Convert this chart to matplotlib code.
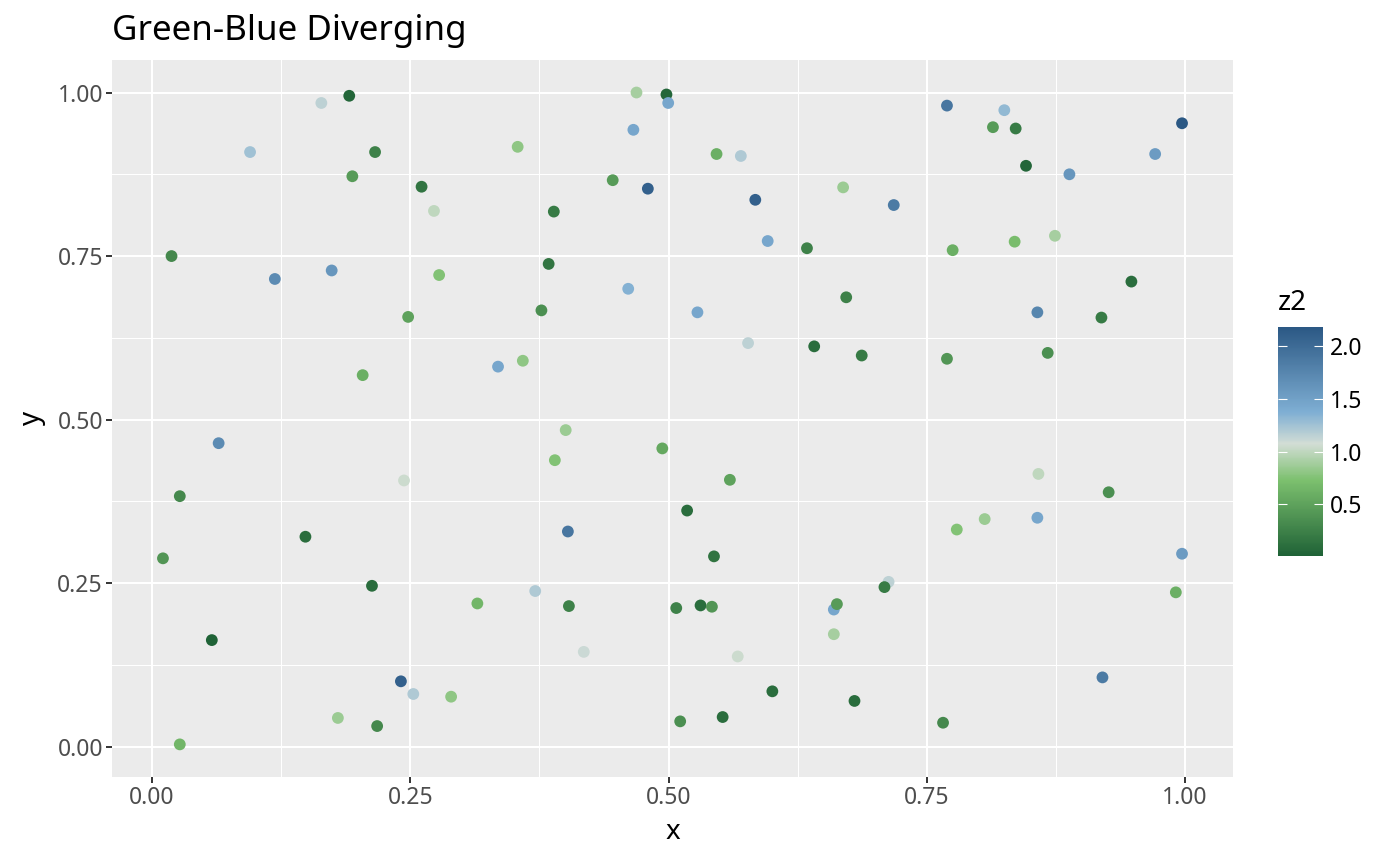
import numpy as np
import matplotlib
matplotlib.use("Agg")
import matplotlib.pyplot as plt
from matplotlib.colors import LinearSegmentedColormap, Normalize

plt.rcParams["font.family"] = ["Noto Sans", "DejaVu Sans"]

# ── data ──────────────────────────────────────────────────────────
x = [0.191, 0.164, 0.095, 0.216, 0.194, 0.261, 0.273, 0.389, 0.354, 0.469,
     0.498, 0.4997, 0.466, 0.446, 0.480, 0.019, 0.119, 0.174, 0.278, 0.384,
     0.461, 0.248, 0.377, 0.204, 0.335, 0.359,
     0.7695, 0.825, 0.814, 0.836, 0.997, 0.5465, 0.570, 0.846, 0.971, 0.888,
     0.584, 0.669, 0.718, 0.596, 0.634, 0.775, 0.835, 0.874, 0.528, 0.577,
     0.672, 0.641, 0.687, 0.7695, 0.857, 0.867, 0.919, 0.948,
     0.0646, 0.027, 0.0107, 0.1486, 0.058, 0.027, 0.244, 0.213, 0.315, 0.371,
     0.4036, 0.4005, 0.390, 0.494, 0.4026, 0.418, 0.241, 0.253, 0.2896, 0.180,
     0.218,
     0.5594, 0.518, 0.544, 0.5075, 0.531, 0.542, 0.567, 0.6005, 0.5524, 0.5113,
     0.660, 0.663, 0.660, 0.713, 0.709, 0.680, 0.7657, 0.779, 0.806, 0.857,
     0.858, 0.926, 0.997, 0.991, 0.920]
y = [0.995, 0.984, 0.909, 0.909, 0.872, 0.856, 0.819, 0.818, 0.917, 1.000,
     0.997, 0.984, 0.943, 0.866, 0.853, 0.750, 0.715, 0.728, 0.721, 0.738,
     0.700, 0.657, 0.667, 0.568, 0.581, 0.590,
     0.980, 0.973, 0.947, 0.945, 0.953, 0.906, 0.903, 0.888, 0.906, 0.875,
     0.836, 0.855, 0.828, 0.773, 0.762, 0.759, 0.772, 0.781, 0.664, 0.617,
     0.687, 0.612, 0.598, 0.593, 0.664, 0.602, 0.656, 0.711,
     0.464, 0.383, 0.288, 0.321, 0.163, 0.0036, 0.407, 0.246, 0.219, 0.238,
     0.215, 0.484, 0.438, 0.456, 0.329, 0.145, 0.100, 0.0806, 0.0765, 0.044,
     0.0316,
     0.408, 0.361, 0.291, 0.212, 0.216, 0.214, 0.138, 0.0847, 0.0454, 0.0388,
     0.2097, 0.218, 0.172, 0.252, 0.244, 0.070, 0.0367, 0.332, 0.348, 0.350,
     0.417, 0.389, 0.295, 0.236, 0.106]
z2 = [0.05, 1.15, 1.25, 0.25, 0.45, 0.15, 1.00, 0.20, 0.80, 0.90,
      0.05, 1.45, 1.45, 0.45, 2.10, 0.30, 1.70, 1.60, 0.75, 0.15,
      1.35, 0.50, 0.35, 0.60, 1.45, 0.80,
      1.90, 1.30, 0.45, 0.20, 2.18, 0.60, 1.20, 0.05, 1.55, 1.60,
      2.10, 0.85, 1.85, 1.45, 0.25, 0.60, 0.70, 0.90, 1.45, 1.15,
      0.25, 0.10, 0.20, 0.40, 1.75, 0.35, 0.20, 0.10,
      1.70, 0.30, 0.40, 0.10, 0.01, 0.65, 1.05, 0.10, 0.65, 1.20,
      0.25, 0.85, 0.75, 0.55, 1.90, 1.10, 2.10, 1.20, 0.80, 0.85,
      0.30,
      0.50, 0.10, 0.15, 0.25, 0.10, 0.40, 1.05, 0.10, 0.10, 0.35,
      1.45, 0.45, 0.90, 1.15, 0.20, 0.10, 0.30, 0.75, 0.85, 1.45,
      1.00, 0.35, 1.55, 0.60, 1.85]

x_ticks = [0.00, 0.25, 0.50, 0.75, 1.00]
y_ticks = [0.00, 0.25, 0.50, 0.75, 1.00]
cbar_ticks = [0.5, 1.0, 1.5, 2.0]

# green -> grey -> blue diverging ramp
cmap = LinearSegmentedColormap.from_list("green_blue", [
    (0.00, "#1f6236"),
    (0.33, "#7cc06e"),
    (0.49, "#d2ddd5"),
    (0.63, "#7eaed3"),
    (1.00, "#2b5884"),
])

fig = plt.figure(figsize=(14, 8.66), dpi=100)
ax = fig.add_axes([0.08, 0.1028, 0.8007, 0.828])
ax.set_facecolor("#ebebeb")
for s in ax.spines.values():
    s.set_visible(False)

norm = Normalize(vmin=min(z2), vmax=max(z2))
sc = ax.scatter(x, y, c=z2, cmap=cmap, norm=norm, s=72, linewidths=0, zorder=3)

# ggplot-like 5% expansion
xr = max(x) - min(x)
yr = max(y) - min(y)
ax.set_xlim(min(x) - 0.05 * xr, max(x) + 0.05 * xr)
ax.set_ylim(min(y) - 0.05 * yr, max(y) + 0.05 * yr)

ax.set_xticks(x_ticks)
ax.set_xticklabels([f"{v:.2f}" for v in x_ticks])
ax.set_yticks(y_ticks)
ax.set_yticklabels([f"{v:.2f}" for v in y_ticks])
ax.set_xticks([0.125, 0.375, 0.625, 0.875], minor=True)
ax.set_yticks([0.125, 0.375, 0.625, 0.875], minor=True)
ax.grid(which="major", color="white", lw=1.5, zorder=0)
ax.grid(which="minor", color="white", lw=0.75, zorder=0)
ax.set_axisbelow(True)
ax.tick_params(which="major", length=4, width=1.4, color="#333333",
               labelsize=16.5, labelcolor="#4d4d4d", pad=2.5)
ax.tick_params(which="minor", length=0)

ax.set_xlabel("x", fontsize=20)
ax.set_ylabel("y", fontsize=20)
ax.xaxis.set_label_coords(0.5, -0.077)
ax.xaxis.label.set_va("center")
ax.yaxis.set_label_coords(-0.0714, 0.5)
ax.yaxis.label.set_va("center")
fig.text(0.08, 0.9538, "Green-Blue Diverging", fontsize=25.2,
         ha="left", va="baseline")

# colour bar legend
cax = fig.add_axes([0.9129, 0.358, 0.032, 0.2644])
cb = fig.colorbar(sc, cax=cax, ticks=cbar_ticks)
cb.outline.set_visible(False)
cax.set_yticklabels([f"{v:.1f}" for v in cbar_ticks])
cax.tick_params(left=True, right=True, direction="in", length=6.5, width=0.8,
                color="white", labelsize=16.5, labelcolor="black", pad=5)
fig.text(0.9129, 0.642, "z2", fontsize=20, ha="left", va="baseline")

fig.savefig("out.png", dpi=100)
